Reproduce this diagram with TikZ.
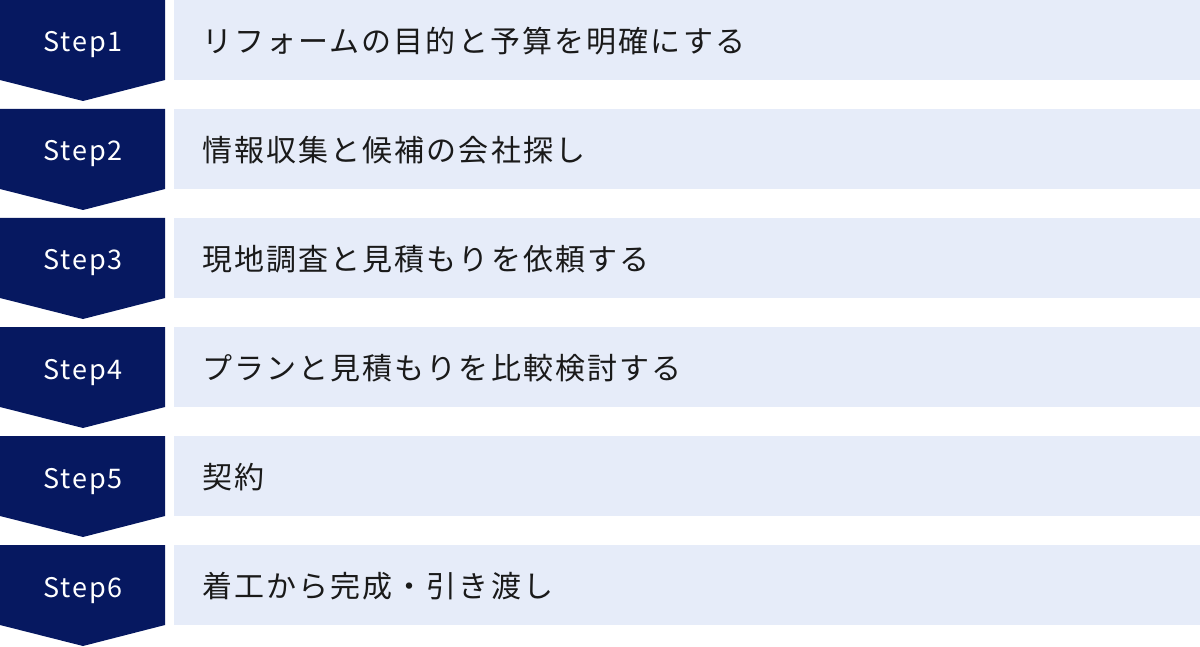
\documentclass[tikz,border=0pt]{standalone}
\usepackage{fontspec}
\newfontfamily\jp[LetterSpace=7]{Noto Sans CJK JP}
\newfontfamily\stepfont[LetterSpace=7]{Noto Sans CJK JP}
\definecolor{navy}{HTML}{061860}
\definecolor{pale}{HTML}{E6ECF9}
\definecolor{ink}{HTML}{1A1A1A}
\tikzset{
  chev/.style={fill=navy, draw=none},
  bar/.style={fill=pale, draw=none},
  steplabel/.style={text=white, font=\stepfont\fontsize{27}{32}\selectfont, inner sep=0pt, anchor=base},
  desc/.style={text=ink, font=\jp\fontsize{30}{34}\selectfont, inner sep=0pt, anchor=west}
}
\begin{document}
\begin{tikzpicture}[x=1pt,y=-1pt]
\useasboundingbox (0,0) rectangle (1200,647);
\foreach \i/\t in {1/リフォームの目的と予算を明確にする,2/情報収集と候補の会社探し,3/現地調査と見積もりを依頼する,4/プランと見積もりを比較検討する,5/契約,6/着工から完成・引き渡し}{
  \pgfmathsetmacro{\y}{(\i-1)*109}
  \fill[chev] (0,\y) -- (165,\y) -- (165,\y+80) -- (83,\y+101) -- (0,\y+80) -- cycle;
  \fill[bar] (174,\y) rectangle (1200,\y+80);
  \node[steplabel] (s\i) at (83,\y+52) {Step\i};
  \node[desc] (d\i) at (202,\y+41) {\t};
}
\end{tikzpicture}
\end{document}
